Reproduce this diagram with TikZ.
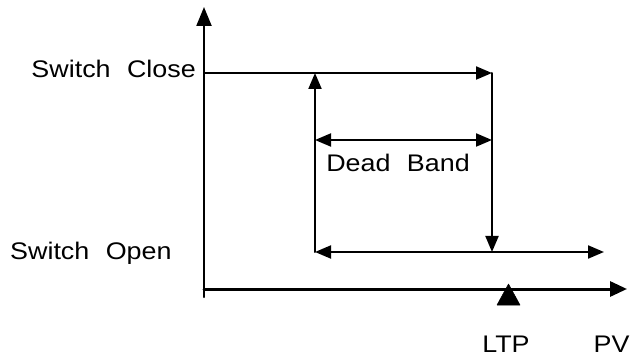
\documentclass[tikz,border=0pt]{standalone}
\usepackage{fontspec}
\usepackage{tkz-euclide}
\usetikzlibrary{arrows.meta}
\newfontfamily\lblfont[FakeStretch=1.12,WordSpace=2.2]{Liberation Sans}

\begin{document}
\begin{tikzpicture}[x=1pt,y=1pt,
    lbl/.style={font=\lblfont\fontsize{24}{26}\selectfont,inner sep=0pt},
    tipto/.style={line width=2pt,-{Triangle[length=16pt,width=13pt]}},
    tipboth/.style={line width=2pt,{Triangle[length=16pt,width=13pt]}-{Triangle[length=16pt,width=13pt]}},
    axisx/.style={line width=3pt,-{Triangle[length=17pt,width=15pt]}},
    axisy/.style={line width=2.2pt,-{Triangle[length=19pt,width=15pt]}}]
  \useasboundingbox (0,0) rectangle (631,356);
  % axes
  \tkzDefPoint(204,59){Y0}
  \tkzDefPoint(204,349){Y1}
  \tkzDefPoint(204,67){X0}
  \tkzDefPoint(627,67){X1}
  \tkzDrawSegment[axisy](Y0,Y1)
  \tkzDrawSegment[axisx](X0,X1)
  % hysteresis loop
  \tkzDefPoint(204,283){C0}
  \tkzDefPoint(492,283){C1}
  \tkzDefPoint(492,104){R0}
  \tkzDefPoint(315,104){L0}
  \tkzDefPoint(315,283){L1}
  \tkzDefPoint(604,104){E1}
  \tkzDefPoint(315,216){D0}
  \tkzDefPoint(492,216){D1}
  \tkzDrawSegment[tipto](C0,C1)
  \tkzDrawSegment[tipto](C1,R0)
  \tkzDrawSegment[tipto](L0,L1)
  \tkzDrawSegment[tipboth](L0,E1)
  \tkzDrawSegment[tipboth](D0,D1)
  % set point marker
  \tkzDefPoint(497,51){T1}
  \tkzDefPoint(520,51){T2}
  \tkzDefPoint(508.5,72){T3}
  \tkzDrawPolygon[fill=black,line width=0.5pt](T1,T2,T3)
  % labels
  \node[lbl,anchor=base east] (close) at (196,278) {Switch Close};
  \node[lbl,anchor=base west] (open) at (10,96) {Switch Open};
  \node[lbl,anchor=base] (band) at (398,184) {Dead Band};
  \node[lbl,anchor=base] (ltp) at (506,4) {LTP};
  \node[lbl,anchor=base] (pv) at (611.5,4) {PV};
\end{tikzpicture}
\end{document}
